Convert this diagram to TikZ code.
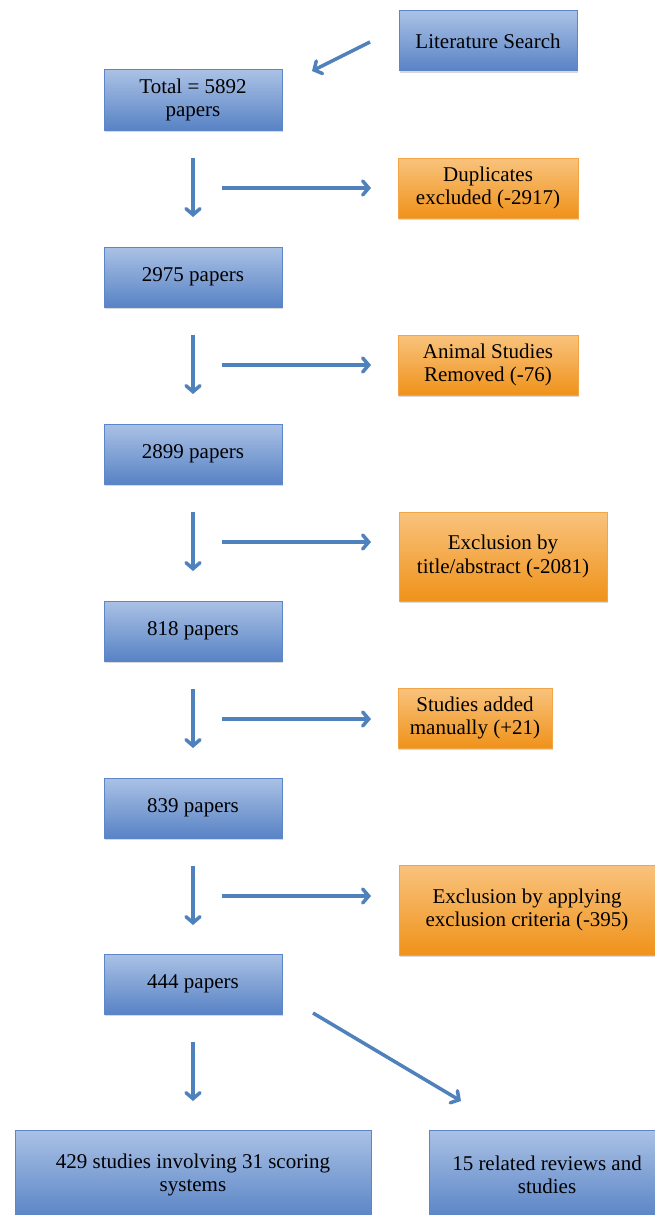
\documentclass[tikz,border=0pt]{standalone}
\usepackage{fontspec}
\setmainfont{Liberation Serif}
\usetikzlibrary{arrows.meta,shadows}
\definecolor{arr}{RGB}{79,129,189}
\definecolor{btop}{RGB}{170,193,229}
\definecolor{bbot}{RGB}{88,131,197}
\definecolor{bline}{RGB}{92,134,200}
\definecolor{otop}{RGB}{249,195,125}
\definecolor{obot}{RGB}{239,146,26}
\definecolor{oline}{RGB}{242,165,70}
\begin{document}
\begin{tikzpicture}[x=1pt,y=-1pt,
 box/.style={draw=bline, line width=1pt, top color=btop, bottom color=bbot,
   minimum width=178pt, minimum height=60pt, align=center, inner sep=0pt,
   font=\fontsize{21}{23.5}\selectfont,
   drop shadow={opacity=0.3,shadow xshift=1pt,shadow yshift=-2pt}},
 obox/.style={box, draw=oline, top color=otop, bottom color=obot},
 conn/.style={draw=arr, line width=3.5pt, -{Straight Barb[length=6pt,width=14pt,line cap=round]}}
]
\useasboundingbox (0,0) rectangle (654,1215);
\fill[white] (0,0) rectangle (654,1215);

% main column
\node[box] (lit) at (488,41) {Literature Search};
\node[box, minimum height=60pt] (total) at (193,100) {Total = 5892\\papers};
\node[box] (p2975) at (193,277) {2975 papers};
\node[box] (p2899) at (193,454) {2899 papers};
\node[box] (p818) at (193,631) {818 papers};
\node[box] (p839) at (193,808) {839 papers};
\node[box] (p444) at (193,984) {444 papers};
\node[box, minimum width=356pt, minimum height=90pt] (s429) at (193,1175) {429 studies involving 31 scoring\\systems};
\node[box, minimum width=236pt, minimum height=90pt] (r15) at (547,1175) {15 related reviews and\\studies};

% side boxes
\node[obox, minimum width=180pt] (dup) at (488,188) {Duplicates\\excluded (-2917)};
\node[obox, minimum width=180pt] (anim) at (488,365) {Animal Studies\\Removed (-76)};
\node[obox, minimum width=208pt, minimum height=89pt] (ex1) at (503,556.5) {Exclusion by\\title/abstract (-2081)};
\node[obox, minimum width=154pt] (add) at (475,718) {Studies added\\manually (+21)};
\node[obox, minimum width=256pt, minimum height=90pt] (ex2) at (527,910) {Exclusion by applying\\exclusion criteria (-395)};

% arrow end points
\coordinate (a0s) at (370,42);  \coordinate (a0e) at (312,71);
\foreach \n/\y in {1/158,2/335,3/512,4/689,5/866}{
  \coordinate (d\n s) at (193,\y);
  \coordinate (d\n e) at (193,\y+59);
  \coordinate (h\n s) at (222,\y+30);
  \coordinate (h\n e) at (371,\y+30);
}
\coordinate (d6s) at (193,1042); \coordinate (d6e) at (193,1101);
\coordinate (g1s) at (313,1013); \coordinate (g1e) at (461,1101);

\draw[conn] (a0s) -- (a0e);
\foreach \n in {1,...,5}{
  \draw[conn] (d\n s) -- (d\n e);
  \draw[conn] (h\n s) -- (h\n e);
}
\draw[conn] (d6s) -- (d6e);
\draw[conn] (g1s) -- (g1e);
\end{tikzpicture}
\end{document}
